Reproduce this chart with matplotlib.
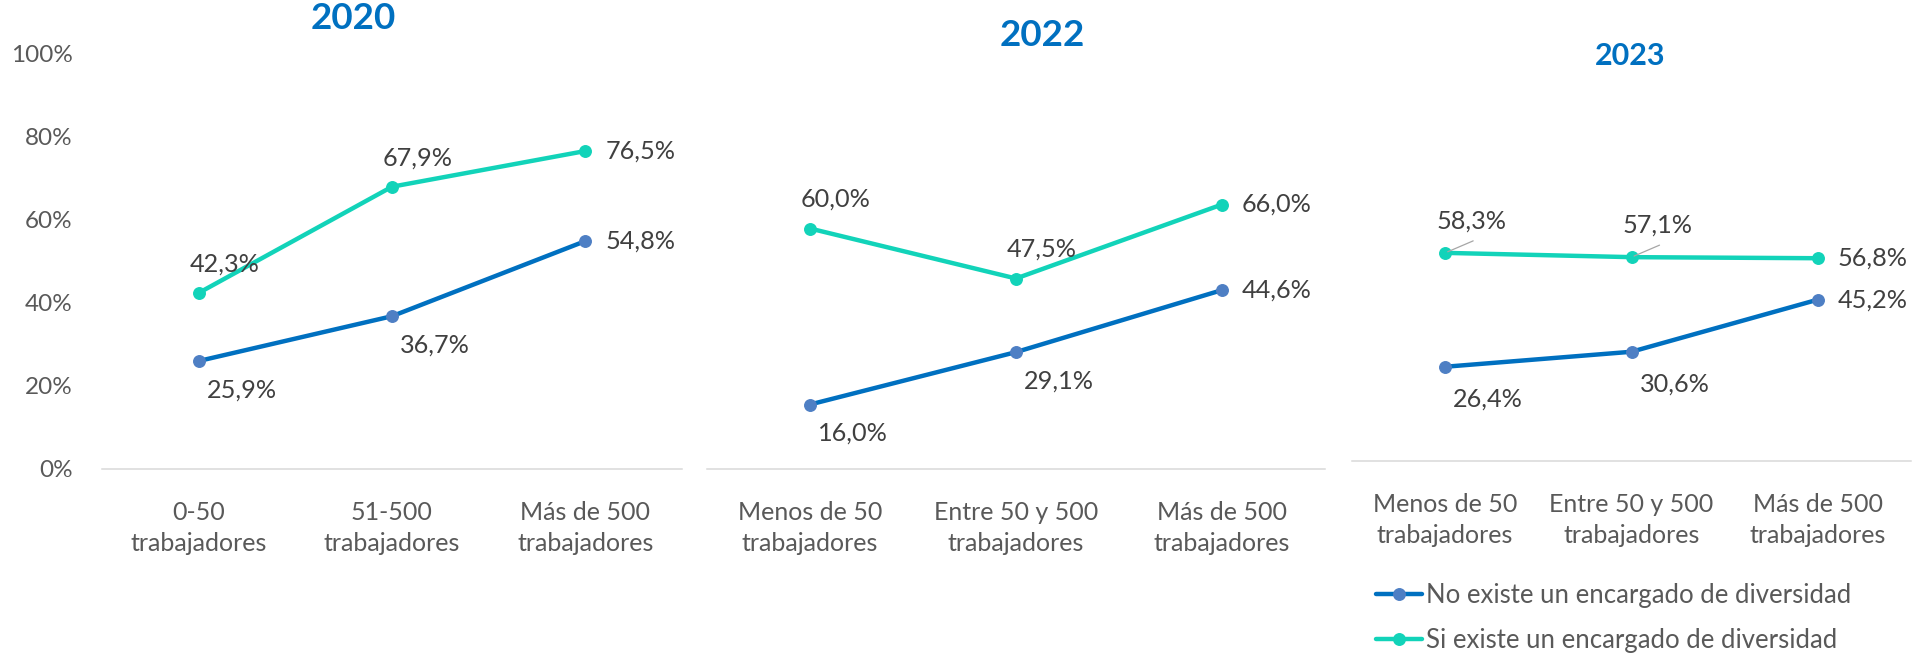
import matplotlib
matplotlib.use("Agg")
import matplotlib.pyplot as plt

plt.rcParams['font.family'] = ['Lato', 'DejaVu Sans']

# data
years = ["2020", "2022", "2023"]
cats_2020 = ["0-50\ntrabajadores", "51-500\ntrabajadores", "Más de 500\ntrabajadores"]
cats_new = ["Menos de 50\ntrabajadores", "Entre 50 y 500\ntrabajadores", "Más de 500\ntrabajadores"]
no_2020 = [25.9, 36.7, 54.8]
si_2020 = [42.3, 67.9, 76.5]
no_2022 = [16.0, 29.1, 44.6]
si_2022 = [60.0, 47.5, 66.0]
no_2023 = [26.4, 30.6, 45.2]
si_2023 = [58.3, 57.1, 56.8]
series_names = ["No existe un encargado de diversidad", "Si existe un encargado de diversidad"]

BLUE = "#0070C0"
BLUE_MK = "#4E7FC4"
GREEN = "#12D3B9"
TITLE = "#0070C0"
LBL = "#404040"
TICK = "#595959"

W, H = 1929, 655
fig = plt.figure(figsize=(W / 100, H / 100), dpi=100)

# panel boxes in pixels: left, axis y, width, height(100%)
boxes = [(102, 468.5, 580, 415), (707, 468.5, 618, 400), (1352, 461, 559, 357)]
title_pos = [(0.433, 1.064, 26.5), (0.542, 1.061, 26.5), (0.497, 1.112, 22)]
panels = [(cats_2020, no_2020, si_2020), (cats_new, no_2022, si_2022), (cats_new, no_2023, si_2023)]


def fmt(v):
    return f"{v:.1f}%".replace(".", ",")


axes = []
for i, (box, (cats, no, si)) in enumerate(zip(boxes, panels)):
    left, y0, w, h = box
    ax = fig.add_axes([left / W, (H - y0) / H, w / W, h / H])
    axes.append(ax)
    x = range(len(cats))
    l1, = ax.plot(x, no, color=BLUE, lw=3.2, marker='o', ms=8.3,
                  mfc=BLUE_MK, mec=BLUE_MK, solid_capstyle='round', zorder=3)
    l2, = ax.plot(x, si, color=GREEN, lw=3.2, marker='o', ms=8.3,
                  mfc=GREEN, mec=GREEN, solid_capstyle='round', zorder=3)
    ax.set_xlim(-0.5, 2.5)
    ax.set_ylim(0, 100)
    for s in ['top', 'right', 'left']:
        ax.spines[s].set_visible(False)
    ax.spines['bottom'].set_color('#D9D9D9')
    ax.spines['bottom'].set_linewidth(1.1)
    ax.set_xticks(list(x))
    ax.set_xticklabels(cats, fontsize=18, color=TICK, linespacing=1.42)
    for t in ax.get_xticklabels():
        t.set_verticalalignment('center')
    ax.tick_params(axis='x', length=0, pad=42.5)
    if i == 0:
        ax.set_yticks(range(0, 101, 20))
        ax.set_yticklabels([f"{v}%" for v in range(0, 101, 20)], fontsize=17.5, color=TICK)
        ax.tick_params(axis='y', length=0, pad=21)
    else:
        ax.set_yticks([])

    tx, ty, tsz = title_pos[i]
    ax.set_title(years[i], x=tx, y=ty, va='center', fontsize=tsz,
                 fontweight='bold', color=TITLE)

    dy = 32 if i == 2 else 29
    n = len(cats)
    for j in range(n):
        # Si: above, No: below, last point: right
        if j == n - 1:
            ax.annotate(fmt(si[j]), (j, si[j]), xytext=(20, 0), textcoords='offset pixels',
                        ha='left', va='center', fontsize=18.2, color=LBL)
            ax.annotate(fmt(no[j]), (j, no[j]), xytext=(20, 0), textcoords='offset pixels',
                        ha='left', va='center', fontsize=18.2, color=LBL)
        else:
            ax.annotate(fmt(si[j]), (j, si[j]), xytext=(26, dy), textcoords='offset pixels',
                        ha='center', va='center', fontsize=18.2, color=LBL)
            ax.annotate(fmt(no[j]), (j, no[j]), xytext=(43, -dy), textcoords='offset pixels',
                        ha='center', va='center', fontsize=18.2, color=LBL)
            if i == 2:
                ax.annotate("", (j, si[j]), xytext=(28, 12), textcoords='offset pixels',
                            arrowprops=dict(arrowstyle='-', color='#A6A6A6', lw=0.9,
                                            shrinkA=0, shrinkB=2))

fig.legend([l1, l2], series_names, loc='center left',
           bbox_to_anchor=(1376 / W, (H - 618) / H), frameon=False,
           fontsize=18.5, labelcolor=TICK, handlelength=1.8, handletextpad=0.15,
           borderpad=0, borderaxespad=0, labelspacing=0.8)

fig.savefig("out.png", dpi=100)
